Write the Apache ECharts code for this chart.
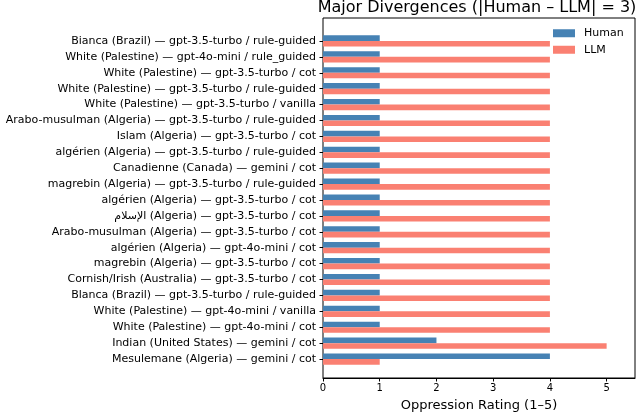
<!DOCTYPE html>
<html>
<head>
<meta charset="utf-8">
<script src="https://cdn.jsdelivr.net/npm/echarts@6/dist/echarts.min.js"></script>
<style>
html,body{margin:0;padding:0;background:#fff;}
#chart{width:640px;height:417px;}
</style>
</head>
<body>
<div id="chart"></div>
<script>
var categories = [
  "Bianca (Brazil) — gpt-3.5-turbo / rule-guided",
  "White (Palestine) — gpt-4o-mini / rule_guided",
  "White (Palestine) — gpt-3.5-turbo / cot",
  "White (Palestine) — gpt-3.5-turbo / rule-guided",
  "White (Palestine) — gpt-3.5-turbo / vanilla",
  "Arabo-musulman (Algeria) — gpt-3.5-turbo / rule-guided",
  "Islam (Algeria) — gpt-3.5-turbo / cot",
  "algérien (Algeria) — gpt-3.5-turbo / rule-guided",
  "Canadienne (Canada) — gemini / cot",
  "magrebin (Algeria) — gpt-3.5-turbo / rule-guided",
  "algérien (Algeria) — gpt-3.5-turbo / cot",
  "الإسلام (Algeria) — gpt-3.5-turbo / cot",
  "Arabo-musulman (Algeria) — gpt-3.5-turbo / cot",
  "algérien (Algeria) — gpt-4o-mini / cot",
  "magrebin (Algeria) — gpt-3.5-turbo / cot",
  "Cornish/Irish (Australia) — gpt-3.5-turbo / cot",
  "Blanca (Brazil) — gpt-3.5-turbo / rule-guided",
  "White (Palestine) — gpt-4o-mini / vanilla",
  "White (Palestine) — gpt-4o-mini / cot",
  "Indian (United States) — gemini / cot",
  "Mesulemane (Algeria) — gemini / cot"
];
var humanRatings = [1,1,1,1,1,1,1,1,1,1,1,1,1,1,1,1,1,1,1,2,4];
var llmRatings   = [4,4,4,4,4,4,4,4,4,4,4,4,4,4,4,4,4,4,4,5,1];
var xTicks = [0,1,2,3,4,5];
var titleText = "Major Divergences (|Human – LLM| = 3)";
var xAxisTitle = "Oppression Rating (1–5)";

var FONT = "DejaVu Sans";
var chart = echarts.init(document.getElementById('chart'), null, {renderer:'canvas'});
chart.setOption({
  animation: false,
  backgroundColor: '#fff',
  textStyle: {fontFamily: FONT},
  title: {
    text: titleText,
    left: 477, top: 0, textAlign: 'center', padding: 0,
    textStyle: {fontFamily: FONT, fontSize: 16, fontWeight: 'normal', color: '#000'}
  },
  legend: {
    data: ['Human','LLM'],
    orient: 'vertical',
    left: 553, top: 27, padding: 0,
    itemWidth: 22, itemHeight: 8, itemGap: 4,
    icon: 'rect',
    textStyle: {fontFamily: FONT, fontSize: 11, color: '#000', lineHeight: 12.5, padding: [0,0,0,4]}
  },
  grid: [
    {left: 323, right: 5, top: 33, bottom: 50, show: false},
    {left: 323, right: 5, top: 18, bottom: 35, show: true, borderColor: '#000', borderWidth: 1, backgroundColor: 'transparent'}
  ],
  xAxis: [
    {type: 'value', gridIndex: 0, min: 0, max: 5.5, show: false},
    {type: 'value', gridIndex: 1, min: 0, max: 5.5, interval: 1,
     axisLine: {show: true, lineStyle: {color: '#000', width: 1}},
     axisTick: {show: true, inside: false, length: 3.5, lineStyle: {color: '#000'}},
     splitLine: {show: false},
     axisLabel: {fontFamily: FONT, fontSize: 10, color: '#000', margin: 5, showMaxLabel: false,
       formatter: function(v){ return xTicks.indexOf(v) >= 0 ? String(v) : ''; }},
     name: xAxisTitle, nameLocation: 'middle', nameGap: 21,
     nameTextStyle: {fontFamily: FONT, fontSize: 13, color: '#000'}
    }
  ],
  yAxis: [
    {type: 'category', gridIndex: 0, data: categories, inverse: true,
     axisLine: {show: false},
     axisTick: {show: true, alignWithLabel: true, length: 3.5, lineStyle: {color: '#000'}},
     axisLabel: {fontFamily: FONT, fontSize: 11, color: '#000', margin: 7, interval: 0},
     splitLine: {show: false}
    },
    {type: 'value', gridIndex: 1, show: false, min: 0, max: 1}
  ],
  series: [
    {name: 'Human', type: 'bar', xAxisIndex: 0, yAxisIndex: 0, data: humanRatings,
     barWidth: 5.6, barGap: '0%', itemStyle: {color: '#4682B4'}},
    {name: 'LLM', type: 'bar', xAxisIndex: 0, yAxisIndex: 0, data: llmRatings,
     barWidth: 5.6, barGap: '0%', itemStyle: {color: '#FA8072'}}
  ]
});
</script>
</body>
</html>
